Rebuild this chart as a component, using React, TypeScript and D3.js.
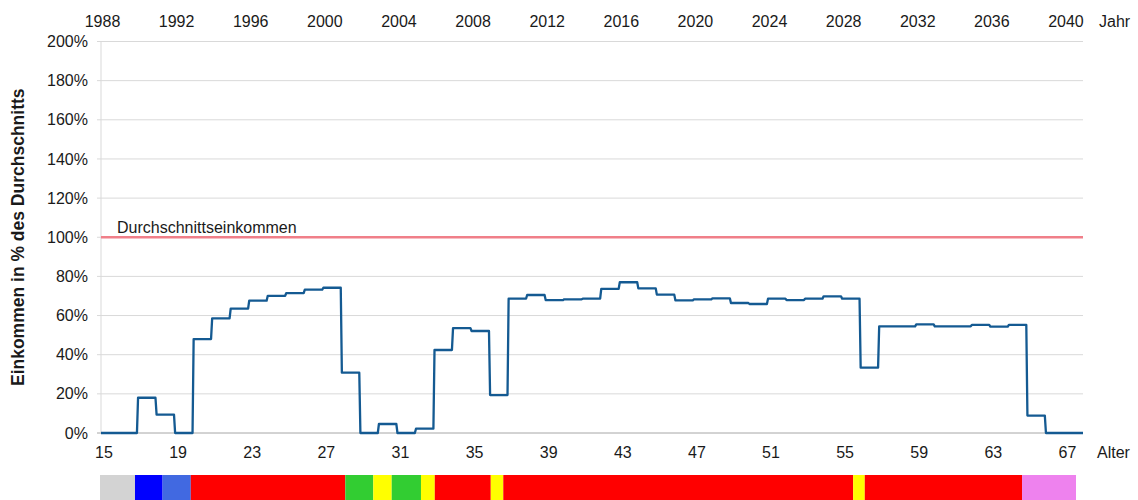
import React from 'react';
import * as d3 from 'd3';

// Alter 15..67, Einkommen in % des Durchschnitts (ein Wert pro Jahr)
const ages = [15, 16, 17, 18, 19, 20, 21, 22, 23, 24, 25, 26, 27, 28, 29, 30, 31, 32, 33, 34, 35, 36, 37, 38, 39, 40,
  41, 42, 43, 44, 45, 46, 47, 48, 49, 50, 51, 52, 53, 54, 55, 56, 57, 58, 59, 60, 61, 62, 63, 64, 65, 66, 67];
const incomes = [0, 0, 18.0, 9.4, 0, 48.0, 58.6, 63.5, 67.6, 70.1, 71.5, 73.2, 74.2, 30.8, 0, 4.6, 0, 2.2, 42.4, 53.6,
  52.1, 19.4, 68.6, 70.5, 67.9, 68.3, 68.6, 73.6, 77.0, 73.9, 70.7, 67.8, 68.3, 68.8, 66.4, 65.9, 68.6, 67.9, 68.6,
  69.8, 68.6, 33.4, 54.5, 54.5, 55.5, 54.5, 54.5, 55.2, 54.3, 55.2, 8.9, 0, 0];

const birthYear = 1973;
const yearTicks = [1988, 1992, 1996, 2000, 2004, 2008, 2012, 2016, 2020, 2024, 2028, 2032, 2036, 2040];
const ageTicks = [15, 19, 23, 27, 31, 35, 39, 43, 47, 51, 55, 59, 63, 67];
const pctTicks = [0, 20, 40, 60, 80, 100, 120, 140, 160, 180, 200];
const averageLevel = 100;

// Lebensphasen-Balken: Grenzen in Jahren und Farben
const phaseBounds = [15, 16.9, 18.4, 19.93, 28.32, 29.84, 30.84, 32.43, 33.18, 36.22, 36.9, 55.9, 56.53, 65.07, 68];
const phaseColors = ['#d3d3d3', '#0000ff', '#4169e1', '#ff0000', '#32cd32', '#ffff00', '#32cd32', '#ffff00',
  '#ff0000', '#ffff00', '#ff0000', '#ffff00', '#ff0000', '#ee82ee'];

const W = 1138;
const H = 500;
const font = '"Liberation Sans", Arial, sans-serif';
const textColor = '#1a1a1a';

export default function App() {
  const x = d3.scaleLinear().domain([15, 68]).range([101, 1083]);
  const y = d3.scaleLinear().domain([0, 200]).range([433, 41.5]);
  const barX = d3.scaleLinear().domain([15, 68]).range([100, 1076]);

  const ramp = 0.06;
  const pts: [number, number][] = [];
  ages.forEach((a, i) => {
    const last = i === ages.length - 1;
    pts.push([a, incomes[i]]);
    pts.push([last ? a + 1 : a + 1 - ramp, incomes[i]]);
  });
  const line = d3.line<[number, number]>().x(d => x(d[0])).y(d => y(d[1]));

  const [x0, x1] = x.range();

  return (
    <svg width={W} height={H} style={{ position: 'absolute', left: 0, top: 0, background: '#fff' }}
      fontFamily={font}>
      {/* Gitterlinien */}
      {pctTicks.map(t => (
        <g key={t}>
          <line x1={x0 - 4} x2={x1} y1={y(t)} y2={y(t)} stroke={t === 0 ? '#a6a6a6' : '#d9d9d9'} strokeWidth={1} />
          <text x={88} y={y(t)} dy="0.35em" textAnchor="end" fontSize={16} fill={textColor}>{t}%</text>
        </g>
      ))}
      <line x1={x0} x2={x0} y1={y(200)} y2={y(0)} stroke="#d9d9d9" strokeWidth={1} />

      {/* Durchschnitt */}
      <line x1={x0} x2={x1} y1={y(averageLevel)} y2={y(averageLevel)} stroke="#f07f89" strokeWidth={2.5} />
      <text x={117} y={y(averageLevel) - 4.5} fontSize={16} fill={textColor}>Durchschnittseinkommen</text>

      {/* Einkommensverlauf */}
      <path d={line(pts) || ''} fill="none" stroke="#145a92" strokeWidth={2.3} strokeLinejoin="round" />

      {/* Jahresachse oben */}
      {yearTicks.map(yr => (
        <text key={yr} x={x(yr - birthYear) + 1.5} y={27} textAnchor="middle" fontSize={16} fill={textColor}>{yr}</text>
      ))}
      <text x={1099} y={27} fontSize={16} fill={textColor}>Jahr</text>

      {/* Altersachse unten */}
      {ageTicks.map(a => (
        <text key={a} x={x(a) + 3} y={458} textAnchor="middle" fontSize={16} fill={textColor}>{a}</text>
      ))}
      <text x={1097} y={458} fontSize={16} fill={textColor}>Alter</text>

      {/* Achsentitel */}
      <text transform={`translate(18,${(y(0) + y(200)) / 2}) rotate(-90)`} textAnchor="middle" dy="0.35em"
        fontSize={17.5} fontWeight="bold" fill={textColor}>Einkommen in % des Durchschnitts</text>

      {/* Lebensphasen */}
      {phaseColors.map((c, i) => (
        <rect key={i} x={barX(phaseBounds[i])} y={475} width={barX(phaseBounds[i + 1]) - barX(phaseBounds[i])}
          height={25} fill={c} />
      ))}
    </svg>
  );
}
